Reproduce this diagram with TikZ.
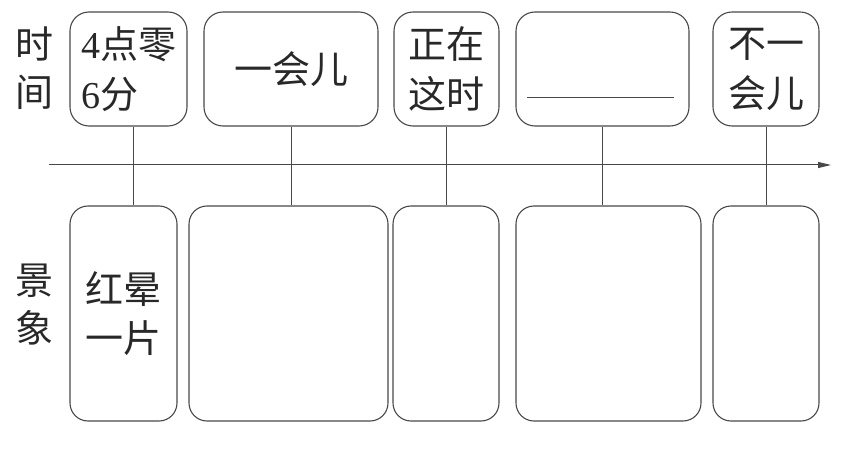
\documentclass[tikz,border=0pt]{standalone}
\usepackage{fontspec}
\usepackage{tikz}
\usetikzlibrary{arrows.meta, positioning, calc}
\newfontfamily\cjk{Noto Sans CJK SC}
\newfontfamily\digitfont{Liberation Serif}
\definecolor{inkgray}{RGB}{72,72,72}
\definecolor{textgray}{RGB}{40,40,40}

\begin{document}
\begin{tikzpicture}[x=1pt, y=1pt,
  tbox/.style={rectangle, rounded corners=19pt, draw=inkgray, line width=1.1pt,
               minimum height=114pt, inner sep=0pt, align=left,
               font=\cjk\fontsize{38}{50}\selectfont, text=textgray},
  bbox/.style={rectangle, rounded corners=18pt, draw=inkgray, line width=1.1pt,
               minimum height=215pt, inner sep=0pt, align=left,
               font=\cjk\fontsize{38}{49}\selectfont, text=textgray},
  side/.style={align=center, inner sep=0pt,
               font=\cjk\fontsize{38}{48}\selectfont, text=textgray},
  link/.style={line width=1pt, color=inkgray},
  taxis/.style={-{Triangle[length=13pt, width=6pt]}, line width=1pt, color=inkgray}
]
\useasboundingbox (0,0) rectangle (848,453);

% ── Row labels ───────────────────────────────────────────────────────────
\node[side] (lbltime)  at (35, 384.5) {时\\间};
\node[side] (lblscene) at (35, 148)   {景\\象};

% ── Row 0: time boxes ────────────────────────────────────────────────────
\node[tbox, minimum width=117pt] (t1) at (128.5, 384) {{\digitfont 4}点零\\{\digitfont 6}分};
\node[tbox, minimum width=174pt] (t2) at (291,   384) {一会儿};
\node[tbox, minimum width=105pt] (t3) at (446.5, 384) {正在\\这时};
\node[tbox, minimum width=173pt] (t4) at (602.5, 384) {};
\node[tbox, minimum width=106pt] (t5) at (766,   384) {不一\\会儿};

% blank to fill in
\draw[line width=1pt, color=inkgray]
  ([shift={(-75.5,-29)}]t4.center) -- ([shift={(71.5,-29)}]t4.center);

% ── Row 1: scene boxes ───────────────────────────────────────────────────
\node[bbox, minimum width=107pt] (b1) at (123.5, 139.5) {红晕\\一片};
\node[bbox, minimum width=199pt] (b2) at (288.5, 139.5) {};
\node[bbox, minimum width=106pt] (b3) at (446,   139.5) {};
\node[bbox, minimum width=185pt] (b4) at (608.5, 139.5) {};
\node[bbox, minimum width=106pt] (b5) at (766,   139.5) {};

% ── Time axis ────────────────────────────────────────────────────────────
\coordinate (axstart) at (49, 288);
\coordinate (axend)   at (831, 288);
\draw[taxis] (axstart) -- (axend);

% ── Links: time box → scene box ──────────────────────────────────────────
\draw[link] ([xshift=4.5pt]t1.south) -- ([xshift=4.5pt]t1.south |- b1.north);
\draw[link] (t2.south) -- (t2.south |- b2.north);
\draw[link] (t3.south) -- (t3.south |- b3.north);
\draw[link] (t4.south) -- (t4.south |- b4.north);
\draw[link] (t5.south) -- (t5.south |- b5.north);

\end{tikzpicture}
\end{document}
